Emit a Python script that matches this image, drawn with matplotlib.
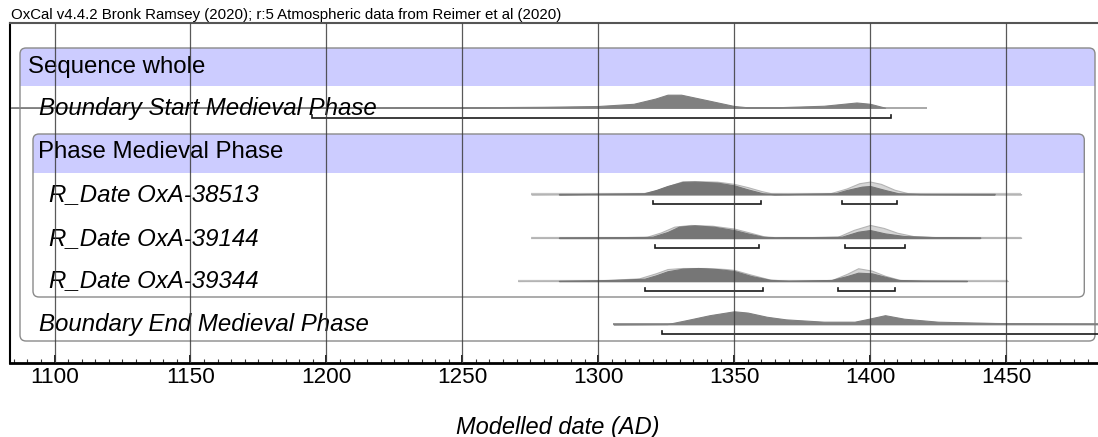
import numpy as np
import matplotlib.pyplot as plt
from matplotlib.patches import FancyBboxPatch, Rectangle
from matplotlib.ticker import MultipleLocator

plt.rcParams['font.family'] = ['Liberation Sans', 'DejaVu Sans']

# ---- data ----
header = "OxCal v4.4.2 Bronk Ramsey (2020); r:5 Atmospheric data from Reimer et al (2020)"
x_label = "Modelled date (AD)"
tick_years = [1100, 1150, 1200, 1250, 1300, 1350, 1400, 1450]

sequence_label = "Sequence whole"
phase_label = "Phase Medieval Phase"
start_label = "Boundary Start Medieval Phase"
end_label = "Boundary End Medieval Phase"
r_date_labels = ["R_Date OxA-38513", "R_Date OxA-39144", "R_Date OxA-39344"]

# boundary start (posterior only)
start_years = [1084, 1200, 1250, 1280, 1300, 1313, 1321, 1325.5, 1330.5, 1339.5,
               1350, 1355, 1365, 1383, 1395, 1400, 1405.5]
start_prob = [0.0, 0.01, 0.03, 0.07, 0.13, 0.3, 0.7, 1.0, 1.0, 0.6,
              0.13, 0.03, 0.03, 0.15, 0.4, 0.3, 0.0]
start_line = (1083.6, 1420.8)
start_ranges = [(1194.9, 1407.6)]

# boundary end (posterior only)
end_years = [1305.6, 1325.5, 1332.5, 1341, 1350, 1355, 1362, 1369, 1383, 1394.3,
             1398.5, 1405.5, 1412.5, 1425, 1446, 1474, 1490]
end_prob = [0.0, 0.02, 0.32, 0.7, 1.0, 0.9, 0.58, 0.38, 0.2, 0.2,
            0.38, 0.7, 0.43, 0.2, 0.1, 0.04, 0.02]
end_line = (1305.6, 1490)
end_ranges = [(1323.4, 1490)]

# R_Dates: unmodelled (light) and modelled (dark)
r38513_light_years = [1275.4, 1316, 1321.3, 1325.5, 1331, 1335.4, 1343.8, 1350, 1355, 1360,
                      1364, 1370, 1385, 1391.4, 1396, 1400, 1404, 1409, 1414, 1420, 1455.6]
r38513_light = [0.0, 0.06, 0.3, 0.62, 1.0, 1.02, 0.97, 0.8, 0.55, 0.25,
                0.06, 0.01, 0.06, 0.45, 0.85, 0.98, 0.8, 0.35, 0.08, 0.02, 0.0]
r38513_dark_years = [1285.5, 1317, 1321.3, 1325.5, 1331, 1335.4, 1343.8, 1350, 1355, 1360.5,
                     1364.8, 1387.3, 1391.4, 1397, 1400, 1405.5, 1410.4, 1418, 1445.8]
r38513_dark = [0.0, 0.08, 0.33, 0.64, 0.95, 0.98, 0.9, 0.69, 0.38, 0.08,
               0.0, 0.08, 0.33, 0.59, 0.64, 0.33, 0.08, 0.02, 0.0]
r38513_ranges = [(1320, 1359.7), (1389.6, 1409.8)]

r39144_light_years = [1275.4, 1300, 1318, 1323, 1328, 1334, 1342, 1350, 1356, 1361,
                      1367, 1388, 1394, 1400, 1405, 1410, 1416, 1425, 1455.6]
r39144_light = [0.0, 0.01, 0.08, 0.4, 0.85, 0.98, 0.92, 0.7, 0.38, 0.1,
                0.01, 0.06, 0.6, 0.98, 0.75, 0.38, 0.12, 0.04, 0.0]
r39144_dark_years = [1285.5, 1315, 1320, 1325.5, 1329.7, 1335.4, 1342.4, 1350, 1355, 1360.5,
                     1365, 1389.6, 1395.6, 1400, 1405.5, 1412.5, 1425, 1440.6]
r39144_dark = [0.0, 0.03, 0.08, 0.44, 0.85, 0.95, 0.85, 0.59, 0.33, 0.08,
               0.01, 0.08, 0.46, 0.59, 0.33, 0.13, 0.03, 0.0]
r39144_ranges = [(1321, 1359.3), (1390.7, 1413)]

r39344_light_years = [1270.6, 1300, 1315, 1321.3, 1325.5, 1331, 1340, 1347, 1350, 1356,
                      1363, 1370, 1386, 1391.5, 1395.6, 1400.6, 1405.5, 1411, 1420, 1450.6]
r39344_light = [0.0, 0.05, 0.2, 0.6, 0.92, 1.0, 1.0, 0.92, 0.85, 0.5,
                0.12, 0.01, 0.08, 0.55, 0.98, 0.8, 0.4, 0.08, 0.02, 0.0]
r39344_dark_years = [1285.5, 1305.9, 1317.1, 1321.3, 1325.5, 1331.1, 1336.8, 1343.8, 1350, 1356.4,
                     1363.4, 1370, 1385.8, 1391.5, 1395.6, 1400.6, 1405.5, 1410.4, 1420, 1435.6]
r39344_dark = [0.0, 0.08, 0.18, 0.44, 0.75, 0.95, 1.0, 0.92, 0.77, 0.38,
               0.08, 0.01, 0.08, 0.38, 0.64, 0.59, 0.33, 0.08, 0.02, 0.0]
r39344_ranges = [(1317.3, 1360.6), (1388.1, 1409.2)]

# ---- layout (pixels of the 1098x437 picture) ----
W, H = 1098, 437
px_per_year = 2.7186


def year_at(px):
    return 1100 + (px - 54.5) / px_per_year


peak_h = 13.0
purple = '#ccccff'
dark = '#767676'
light_fill = '#d6d6d6'
light_edge = '#b4b4b4'

fig = plt.figure(figsize=(W / 100, H / 100), dpi=100)
ax = fig.add_axes([10 / W, (H - 363) / H, (W - 10) / W, (363 - 23) / H])
ax.set_xlim(year_at(10), year_at(W))
ax.set_ylim(363, 23)


def box(x0, x1, y0, y1, band_bottom):
    a, b = year_at(x0), year_at(x1)
    style = "round,pad=0,rounding_size=%f" % (6 / px_per_year)
    band = FancyBboxPatch((a, y0), b - a, y1 - y0, boxstyle=style,
                          mutation_aspect=px_per_year, fc=purple, ec='none', zorder=1)
    ax.add_patch(band)
    band.set_clip_path(Rectangle((a, y0), b - a, band_bottom - y0, transform=ax.transData))
    outline = FancyBboxPatch((a, y0), b - a, y1 - y0, boxstyle=style,
                             mutation_aspect=px_per_year, fc='none', ec='#8a8a8a',
                             lw=1.0, zorder=1.5)
    ax.add_patch(outline)


def brackets(ranges, y):
    for lo, hi in ranges:
        ax.plot([lo, lo, hi, hi], [y - 3, y, y, y - 3], color='#1a1a1a', lw=1.2,
                solid_joinstyle='miter', zorder=4)


def dist(years, prob, base, fc, ec, z):
    years = np.array(years)
    prob = np.array(prob)
    ax.fill_between(years, base, base - prob * peak_h, facecolor=fc, edgecolor=ec,
                    lw=0.8, zorder=z)


box(20, 1095, 48, 341, 86)
box(33, 1084.3, 134, 297, 172.5)

label_size = 17.3
ax.text(year_at(28), 73, sequence_label, fontsize=label_size, va='baseline', zorder=5)
ax.text(year_at(38), 158, phase_label, fontsize=label_size, va='baseline', zorder=5)
ax.text(year_at(39), 115, start_label, fontsize=label_size, style='italic',
        va='baseline', zorder=5)
ax.text(year_at(39), 331, end_label, fontsize=label_size, style='italic',
        va='baseline', zorder=5)

# boundary start
ax.hlines(107.7, *start_line, color='#9a9a9a', lw=1.2, zorder=2)
dist(start_years, start_prob, 107.7, '#808080', '#808080', 3)
brackets(start_ranges, 118.3)

# R_Dates
r_rows = [
    (r38513_light_years, r38513_light, r38513_dark_years, r38513_dark, r38513_ranges),
    (r39144_light_years, r39144_light, r39144_dark_years, r39144_dark, r39144_ranges),
    (r39344_light_years, r39344_light, r39344_dark_years, r39344_dark, r39344_ranges),
]
r_bases = [194.3, 237.7, 281.0]
r_text_y = [201, 245, 287]
for lbl, row, base, ty in zip(r_date_labels, r_rows, r_bases, r_text_y):
    ly, lp, dy, dp, rng = row
    ax.text(year_at(49), ty, lbl, fontsize=label_size, style='italic',
            va='baseline', zorder=5)
    ax.hlines(base, ly[0], ly[-1], color='#c4c4c4', lw=1.6, zorder=2)
    dist(ly, lp, base, light_fill, light_edge, 2.5)
    ax.hlines(base, dy[0], dy[-1], color=dark, lw=1.0, zorder=2.8)
    dist(dy, dp, base, dark, dark, 3)
    brackets(rng, base + 10)

# boundary end
ax.hlines(324.3, *end_line, color='#808080', lw=1.2, zorder=2)
dist(end_years, end_prob, 324.3, '#808080', '#808080', 3)
brackets(end_ranges, 334.3)

# grid lines over everything
ax.vlines(tick_years, 23, 363, color='#3c3c3c', lw=0.9, alpha=0.85, zorder=10)

ax.set_xticks(tick_years)
ax.set_xticklabels([str(t) for t in tick_years])
ax.xaxis.set_minor_locator(MultipleLocator(5))
ax.tick_params(axis='x', which='major', direction='in', length=6, width=1.2,
               labelsize=16.2, pad=3, color='black')
ax.tick_params(axis='x', which='minor', direction='in', length=3, width=0.8, color='#333333')
ax.set_yticks([])
ax.spines['right'].set_visible(False)
ax.spines['top'].set_color('#555555')
ax.spines['top'].set_linewidth(1.5)
ax.spines['left'].set_linewidth(1.5)
ax.spines['bottom'].set_linewidth(2.0)

fig.text(11 / W, 1 - 19 / H, header, fontsize=10.8, va='baseline')
fig.text(558 / W, 1 - 434 / H, x_label, fontsize=17, style='italic',
         ha='center', va='baseline')

fig.savefig('out.png', dpi=100)
